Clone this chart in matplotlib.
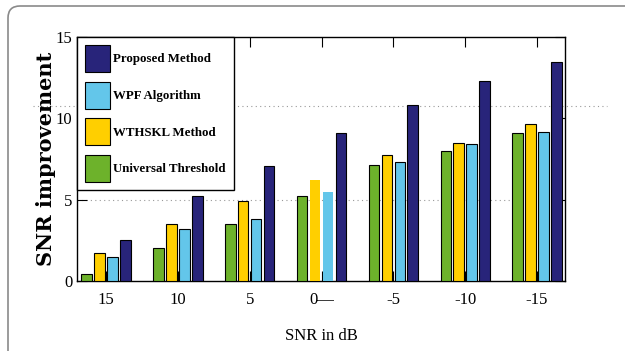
import matplotlib
matplotlib.use("Agg")
import matplotlib.pyplot as plt
import numpy as np
from matplotlib.patches import FancyBboxPatch

snr_labels = ["15", "10", "5", "0\u2014", "-5", "-10", "-15"]
universal = [0.41, 2.01, 3.52, 5.20, 7.11, 8.01, 9.10]
wthskl = [1.70, 3.52, 4.92, 6.21, 7.74, 8.50, 9.65]
wpf = [1.49, 3.22, 3.79, 5.47, 7.31, 8.40, 9.14]
proposed = [2.52, 5.22, 7.07, 9.10, 10.80, 12.29, 13.46]

c_green = "#6db22b"
c_yellow = "#ffcf00"
c_cyan = "#63c6ea"
c_navy = "#28247a"

plt.rcParams['font.family'] = ['Liberation Serif', 'DejaVu Serif']

fig = plt.figure(figsize=(6.25, 3.51), dpi=100)
ax = fig.add_axes([0.1237, 0.1994, 0.7803, 0.6952])

# rounded frame around the figure (only top/left visible)
frame = FancyBboxPatch((0.08, -0.6), 6.6, 4.05,
                       boxstyle="round,pad=0,rounding_size=0.12",
                       transform=fig.dpi_scale_trans, fill=False,
                       edgecolor="#8a8a8a", linewidth=1.2)
fig.add_artist(frame)

x = np.arange(len(snr_labels))
w = 0.146
step = 0.18
b1 = ax.bar(x - 1.5 * step, universal, w, color=c_green, edgecolor="black", linewidth=0.8, zorder=3)
b2 = ax.bar(x - 0.5 * step, wthskl, w, color=c_yellow, edgecolor="black", linewidth=0.8, zorder=3)
b3 = ax.bar(x + 0.5 * step, wpf, w, color=c_cyan, edgecolor="black", linewidth=0.8, zorder=3)
b4 = ax.bar(x + 1.5 * step, proposed, w, color=c_navy, edgecolor="black", linewidth=0.8, zorder=3)
# the 0 dB yellow and cyan bars have no outline in the original
b2[3].set_edgecolor("none")
b3[3].set_edgecolor("none")

# dotted lines
ax.plot([0, 0.95], [5, 5], transform=ax.get_yaxis_transform(), ls=(0, (1, 3)),
        color="#999999", lw=0.8, zorder=1)
ax.plot([-0.091, 1.086], [10.76, 10.76], transform=ax.get_yaxis_transform(),
        ls=(0, (1, 3)), color="#999999", lw=0.8, zorder=1, clip_on=False)

ax.set_xlim(-0.40, 6.39)
ax.set_ylim(0, 15)
ax.set_xticks(x)
ax.set_xticklabels(snr_labels, fontsize=12)
ax.set_yticks([0, 5, 10, 15])
ax.set_yticklabels(["0", "5", "10", "15"], fontsize=12)
ax.tick_params(direction="in", top=True, right=True, length=7, width=0.8)
ax.tick_params(axis="x", pad=8)
for s in ax.spines.values():
    s.set_linewidth(1.0)

ax.set_xlabel("SNR in dB", fontsize=12, labelpad=14)
ax.set_ylabel("SNR improvement", fontsize=15, fontweight="bold",
              family=["DejaVu Serif"], labelpad=0)

leg = ax.legend([b4, b3, b2, b1],
                ["Proposed Method", "WPF Algorithm", "WTHSKL Method", "Universal Threshold"],
                loc="upper left", bbox_to_anchor=(0, 1), borderaxespad=0,
                fancybox=False, edgecolor="black", framealpha=1,
                prop={"family": "Liberation Serif", "weight": "bold", "size": 9.3},
                handlelength=1.9, handleheight=2.84, handletextpad=0.25,
                labelspacing=0.75, borderpad=0.62)
leg.get_frame().set_linewidth(1.0)
leg.set_zorder(5)

fig.savefig("out.png", dpi=100)
